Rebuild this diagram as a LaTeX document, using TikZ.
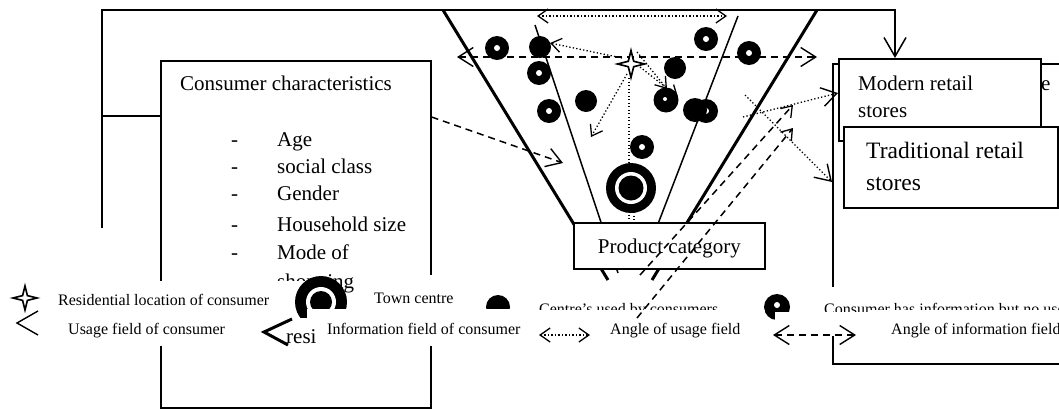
\documentclass[tikz,border=0pt]{standalone}
\usepackage{fontspec}
\setmainfont{Liberation Serif}
\usetikzlibrary{arrows.meta}
\tikzset{
  Vs/.tip={Straight Barb[length=10pt,width=14pt,line width=1.3pt]},
  Vm/.tip={Straight Barb[length=15pt,width=19pt,line width=1.4pt]},
  Vl/.tip={Straight Barb[length=19pt,width=22pt,line width=1.5pt]},
}
\begin{document}
\begin{tikzpicture}[x=1pt,y=-1pt,
  frame/.style={line width=1.5pt},
  outerf/.style={line width=3pt},
  innerf/.style={line width=1.5pt},
  dsh/.style={line width=1.5pt,dash pattern=on 7pt off 5pt},
  dtt/.style={line width=1.3pt,dash pattern=on 1.3pt off 2.2pt},
  box/.style={draw,line width=1.6pt,fill=white,inner sep=0pt},
  big/.style={font=\fontsize{21}{25}\selectfont,inner sep=0pt},
  bigger/.style={font=\fontsize{23.5}{28}\selectfont,inner sep=0pt},
  sm/.style={font=\fontsize{16}{19}\selectfont,inner sep=0pt},
  wbox/.style={fill=white},
  ring/.pic={\fill (0,0) circle (12pt); \fill[white] (0,0) circle (3pt);},
  disc/.pic={\fill (0,0) circle (11pt);},
  sparkle/.pic={\filldraw[fill=white,line width=1.6pt,line join=miter]
     (0,-#1)--(0.2*#1,-0.2*#1)--(#1,0)--(0.2*#1,0.2*#1)--(0,#1)--(-0.2*#1,0.2*#1)--(-#1,0)--(-0.2*#1,-0.2*#1)--cycle;},
]
\useasboundingbox (0,0) rectangle (1059,408);
\clip (0,0) rectangle (1059,408);

% ---------- consumer box ----------
\node[box,minimum width=270pt,minimum height=347pt,anchor=north west] (cons) at (160,60) {};
\node[big,anchor=base west] (ctitle) at (180,90) {Consumer characteristics};
\foreach \yy/\tt in {146/Age,173/social class,200/Gender,231/Household size,259/Mode of,288/shopping}{
  \node[big,anchor=base west] at (231,\yy) {-};
  \node[big,anchor=base west] at (277,\yy) {\tt};
}

% ---------- retail boxes ----------
\node[box,minimum width=260pt,minimum height=300pt,anchor=north west] (rbig) at (832,63) {};
\node[big,anchor=base west] (etxt) at (1041,90) {e};
\node[box,minimum width=202pt,minimum height=82pt,anchor=north west] (mod) at (838,58) {};
\node[big,anchor=base west] at (858,90) {Modern retail};
\node[big,anchor=base west] at (858,117) {stores};
\node[box,minimum width=214pt,minimum height=81pt,anchor=north west] (trad) at (843,126) {};
\node[bigger,anchor=base west] at (866,158) {Traditional retail};
\node[bigger,anchor=base west] at (866,190) {stores};

% ---------- frame ----------
\coordinate (fl) at (102,228);
\coordinate (fm) at (102,116);
\coordinate (fr) at (895,10);
\draw[frame,-Vl] (fl) |- (fr) -- (fr |- mod.north);
\draw[frame] (fm) -- (cons.west |- fm);

% ---------- funnel ----------
\coordinate (lo1) at (443,10);  \coordinate (lo2) at (608,280);
\coordinate (li1) at (535,25);  \coordinate (li2) at (618,273);
\coordinate (ri1) at (738,16);  \coordinate (ri2) at (641,268);
\coordinate (ro1) at (817,10);  \coordinate (ro2) at (652,280);
\draw[outerf] (lo1) -- (lo2);
\draw[outerf] (ro1) -- (ro2);
\draw[innerf] (li1) -- (li2);
\draw[innerf] (ri1) -- (ri2);

\draw[dtt,Vs-Vs] (537,16) -- (727,16);
\draw[dsh,Vm-Vm] (457,57) -- (817,57);

% centres
\pic at (497,48) {ring};
\pic at (540,47) {disc};
\pic at (539,73) {ring};
\pic at (549,111) {ring};
\pic at (586,101) {disc};
\pic at (642,147) {ring};
\pic at (706,39) {ring};
\pic at (749,53) {ring};
\pic at (675,68) {disc};
\fill (666,100) circle (12.5pt); \fill[white] (665,99) circle (2pt);
\pic at (706,111) {ring};
\fill (695,110) circle (12pt);

% consumer location and fields
\pic (home) at (631,64) {sparkle=13.5};
\coordinate (home) at (631,64);
\draw[dtt,-Vs] (622,58) -- (550,43);
\draw[dtt,-Vs] (627,74) -- (591,137);
\draw[dtt,-Vs] (637,52) -- (667,89);
\draw[dtt,-Vs] (640,67) -- (678,97);
\draw[dtt] (629,78) -- (629,222);
\draw[dtt] (634,212) -- (634,222);

% town centre
\fill (631,188) circle (25pt);
\fill[white] (631,188) circle (16pt);
\fill (631,188) circle (12.5pt);

% product category
\node[box,big,minimum width=191pt,minimum height=46pt,anchor=north west] (prod) at (573,222) {};
\node[big,anchor=base] at (prod.center |- 0,253) {Product category};

% arrows from consumer box and to stores
\draw[dsh,-Vm] (cons.east |- 0,117) -- (563,163);
\draw[dtt,-Vm] (743,117) -- (mod.west |- 0,93);
\draw[dtt,-Vm] (745,95) -- (rbig.west |- 0,182);

% ---------- legend, row 1 ----------
\fill[wbox] (45,281) rectangle (306,312);
\fill[wbox] (362,275) rectangle (475,309);
\fill[wbox] (525,281) rectangle (760,312);
\fill[wbox] (800,287) rectangle (1059,312);
\pic at (25,298) {sparkle=12};
\node[sm,anchor=base west] (lres) at (58,305) {Residential location of consumer};
\fill (321,302) circle (26pt);
\fill[white] (321,302) circle (15pt);
\fill (321,302) circle (11pt);
\node[sm,anchor=base west] (ltown) at (374,303) {Town centre};
\fill (498,307) circle (12pt);
\node[sm,anchor=base west] (lused) at (539,314) {Centre’s used by consumers};
\fill (777,307) circle (13pt); \fill[white] (777,305) circle (3pt);
\node[sm,anchor=base west] (linfo) at (824,314) {Consumer has information but no use};

% ---------- legend, row 2 ----------
\fill[wbox] (45,312) rectangle (262,346);
\fill[wbox] (262,318) rectangle (307,346);
\fill[wbox] (307,309) rectangle (525,346);
\fill[wbox] (525,310) rectangle (600,346);
\fill[wbox] (600,310) rectangle (765,346);
\fill[wbox] (775,312) rectangle (870,336);
\fill[wbox] (870,310) rectangle (1059,340);
\draw[line width=1.4pt] (38,311) -- (17,323) -- (38,335);
\node[sm,anchor=base west] (lusage) at (68,334) {Usage field of consumer};
\draw[line width=3pt] (292,319) -- (264,332) -- (288,345);
\node[big,anchor=base west] (lresi) at (286,343) {resi};
\node[sm,anchor=base west] (linf) at (327,334) {Information field of consumer};
\coordinate (du1) at (539,335); \coordinate (du2) at (590,335);
\draw[dtt,Vs-Vs] (du1) -- (du2);
\node[sm,anchor=base west] (lang1) at (610,334) {Angle of usage field};
\coordinate (di1) at (773,335); \coordinate (di2) at (856,335);
\draw[dsh,Vm-Vm] (di1) -- (di2);
\node[sm,anchor=base west] (lang2) at (891,334) {Angle of information field};

% ---------- dashed lines over everything ----------
\draw[dsh,-Vs] (637,318) -- (793,128);
\draw[dsh,-Vs] (640,275) -- (793,105);
\end{tikzpicture}
\end{document}
